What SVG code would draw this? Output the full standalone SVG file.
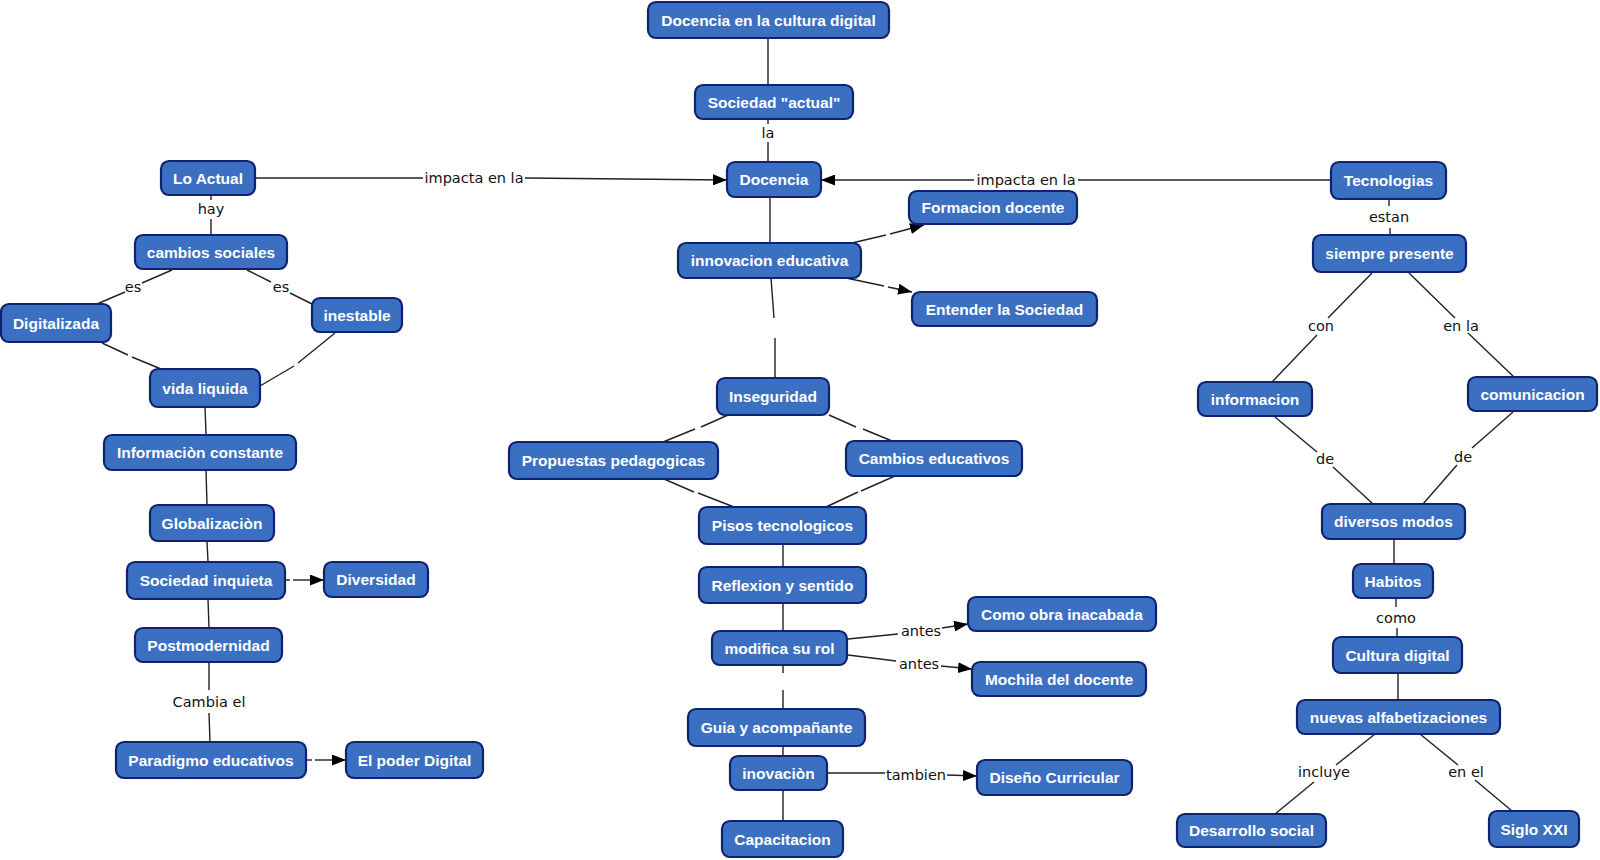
<svg xmlns="http://www.w3.org/2000/svg" width="1600" height="860" viewBox="0 0 1600 860">
<style>
.n rect{fill:#3b6fc1;stroke:#0f2270;stroke-width:2.2}
.n text{font-family:"Liberation Sans",Arial,sans-serif;font-weight:bold;font-size:15.5px;fill:#fff;text-anchor:middle}
.c path{fill:none;stroke:#222;stroke-width:1.4}
.c path.a{marker-end:url(#arr)}
.l{font-family:"DejaVu Sans",Verdana,sans-serif;font-size:14.5px;fill:#111;text-anchor:middle}
</style>
<defs>
<marker id="arr" viewBox="0 0 14 11" refX="14" refY="5.5" markerWidth="14" markerHeight="11" markerUnits="userSpaceOnUse" orient="auto">
<path d="M0 0 L14 5.5 L0 11 z" fill="#000"/>
</marker>
</defs>
<rect width="1600" height="860" fill="#fff"/>
<g id="connectors" class="c">
<path d="M768 38 V85"/>
<path d="M768 119 V124 M768 142 V162"/>
<path d="M255 178 H423"/><path class="a" d="M525 178 L727 180"/>
<path d="M1331 180 H1078"/><path class="a" d="M974 180 H821"/>
<path d="M770 197 V243"/>
<path d="M852 243 L886 235"/><path class="a" d="M890 234 L924 225"/>
<path d="M846 278 L884 286"/><path class="a" d="M888 287 L912 292"/>
<path d="M771 278 L774 318 M775 338 L775 378"/>
<path d="M728 415 L701 427 M695 429 L663 442"/>
<path d="M829 415 L856 427 M863 429 L892 441"/>
<path d="M664 479 L694 492 M698 493 L734 507"/>
<path d="M895 476 L861 491 M858 492 L826 507"/>
<path d="M783 544 V567"/>
<path d="M783 603 V631"/>
<path d="M848 639 L898 634"/><path class="a" d="M942 628 L968 624"/>
<path d="M848 655 L896 661"/><path class="a" d="M941 666 L972 669"/>
<path d="M783 665 V673 M783 690 V709"/>
<path d="M783 746 V756"/>
<path d="M827 773 H885"/><path class="a" d="M947 775 L977 776"/>
<path d="M783 790 V821"/>
<path d="M211 195 V200 M211 219 V235"/>
<path d="M172 270 L142 283 M125 292 L97 304"/>
<path d="M247 270 L271 282 M290 293 L312 304"/>
<path d="M102 343 L128 355 M132 357 L161 369"/>
<path d="M335 333 L298 363 M294 366 L260 386"/>
<path d="M205 406 L206 435"/>
<path d="M206 470 L207 505"/>
<path d="M207 541 L208 562"/>
<path d="M286 580 H290"/><path class="a" d="M293 580 H324"/>
<path d="M208 599 L209 628"/>
<path d="M209 662 V690 M209 713 L210 742"/>
<path d="M307 760 H312"/><path class="a" d="M315 760 H346"/>
<path d="M1389 199 V206 M1390 228 V235"/>
<path d="M1372 273 L1328 318 M1317 335 L1272 382"/>
<path d="M1409 273 L1455 318 M1468 333 L1514 377"/>
<path d="M1275 417 L1317 452 M1333 467 L1373 504"/>
<path d="M1513 412 L1472 448 M1457 465 L1423 504"/>
<path d="M1394 539 V564"/>
<path d="M1396 598 V607 M1397 628 V637"/>
<path d="M1398 673 V700"/>
<path d="M1375 734 L1336 765 M1314 782 L1275 814"/>
<path d="M1420 734 L1458 765 M1475 780 L1512 811"/>
</g>
<g id="labels">
<text class="l" x="768" y="138">la</text>
<text class="l" x="474" y="183">impacta en la</text>
<text class="l" x="1026" y="185">impacta en la</text>
<text class="l" x="211" y="214">hay</text>
<text class="l" x="133" y="292">es</text>
<text class="l" x="281" y="292">es</text>
<text class="l" x="921" y="636">antes</text>
<text class="l" x="919" y="669">antes</text>
<text class="l" x="916" y="780">tambien</text>
<text class="l" x="209" y="707">Cambia el</text>
<text class="l" x="1389" y="222">estan</text>
<text class="l" x="1321" y="331">con</text>
<text class="l" x="1461" y="331">en la</text>
<text class="l" x="1325" y="464">de</text>
<text class="l" x="1463" y="462">de</text>
<text class="l" x="1396" y="623">como</text>
<text class="l" x="1324" y="777">incluye</text>
<text class="l" x="1466" y="777">en el</text>
</g>
<g id="n1" class="n"><rect x="648" y="2" width="241" height="36" rx="8"/><text x="768.5" y="25.5">Docencia en la cultura digital</text></g>
<g id="n2" class="n"><rect x="695" y="85" width="158" height="34" rx="8"/><text x="774" y="107.5">Sociedad "actual"</text></g>
<g id="n3" class="n"><rect x="727" y="162" width="94" height="35" rx="8"/><text x="774" y="185">Docencia</text></g>
<g id="n4" class="n"><rect x="161" y="161" width="94" height="34" rx="8"/><text x="208" y="183.5">Lo Actual</text></g>
<g id="n5" class="n"><rect x="1331" y="162" width="115" height="37" rx="8"/><text x="1388.5" y="186">Tecnologias</text></g>
<g id="n6" class="n"><rect x="909" y="191" width="168" height="33" rx="8"/><text x="993" y="213">Formacion docente</text></g>
<g id="n7" class="n"><rect x="678" y="243" width="183" height="35" rx="8"/><text x="769.5" y="266">innovacion educativa</text></g>
<g id="n8" class="n"><rect x="912" y="292" width="185" height="34" rx="8"/><text x="1004.5" y="314.5">Entender la Sociedad</text></g>
<g id="n9" class="n"><rect x="717" y="378" width="112" height="37" rx="8"/><text x="773" y="402">Inseguridad</text></g>
<g id="n10" class="n"><rect x="509" y="442" width="209" height="37" rx="8"/><text x="613.5" y="466">Propuestas pedagogicas</text></g>
<g id="n11" class="n"><rect x="846" y="441" width="176" height="35" rx="8"/><text x="934" y="464">Cambios educativos</text></g>
<g id="n12" class="n"><rect x="699" y="507" width="167" height="37" rx="8"/><text x="782.5" y="531">Pisos tecnologicos</text></g>
<g id="n13" class="n"><rect x="699" y="567" width="167" height="36" rx="8"/><text x="782.5" y="590.5">Reflexion y sentido</text></g>
<g id="n14" class="n"><rect x="712" y="631" width="135" height="34" rx="8"/><text x="779.5" y="653.5">modifica su rol</text></g>
<g id="n15" class="n"><rect x="968" y="597" width="188" height="34" rx="8"/><text x="1062" y="619.5">Como obra inacabada</text></g>
<g id="n16" class="n"><rect x="972" y="662" width="174" height="34" rx="8"/><text x="1059" y="684.5">Mochila del docente</text></g>
<g id="n17" class="n"><rect x="688" y="709" width="177" height="37" rx="8"/><text x="776.5" y="733">Guia y acompañante</text></g>
<g id="n18" class="n"><rect x="730" y="756" width="97" height="34" rx="8"/><text x="778.5" y="778.5">inovaciòn</text></g>
<g id="n19" class="n"><rect x="977" y="760" width="155" height="35" rx="8"/><text x="1054.5" y="783">Diseño Curricular</text></g>
<g id="n20" class="n"><rect x="722" y="821" width="121" height="36" rx="8"/><text x="782.5" y="844.5">Capacitacion</text></g>
<g id="n21" class="n"><rect x="135" y="235" width="152" height="34" rx="8"/><text x="211" y="257.5">cambios sociales</text></g>
<g id="n22" class="n"><rect x="1" y="304" width="110" height="38" rx="8"/><text x="56" y="328.5">Digitalizada</text></g>
<g id="n23" class="n"><rect x="312" y="298" width="90" height="34" rx="8"/><text x="357" y="320.5">inestable</text></g>
<g id="n24" class="n"><rect x="150" y="369" width="110" height="38" rx="8"/><text x="205" y="393.5">vida liquida</text></g>
<g id="n25" class="n"><rect x="104" y="435" width="192" height="35" rx="8"/><text x="200" y="458">Informaciòn constante</text></g>
<g id="n26" class="n"><rect x="150" y="505" width="124" height="36" rx="8"/><text x="212" y="528.5">Globalizaciòn</text></g>
<g id="n27" class="n"><rect x="127" y="562" width="158" height="37" rx="8"/><text x="206" y="586">Sociedad inquieta</text></g>
<g id="n28" class="n"><rect x="324" y="562" width="104" height="35" rx="8"/><text x="376" y="585">Diversidad</text></g>
<g id="n29" class="n"><rect x="135" y="628" width="147" height="34" rx="8"/><text x="208.5" y="650.5">Postmodernidad</text></g>
<g id="n30" class="n"><rect x="116" y="742" width="190" height="36" rx="8"/><text x="211" y="765.5">Paradigmo educativos</text></g>
<g id="n31" class="n"><rect x="346" y="742" width="137" height="36" rx="8"/><text x="414.5" y="765.5">El poder Digital</text></g>
<g id="n32" class="n"><rect x="1313" y="235" width="153" height="37" rx="8"/><text x="1389.5" y="259">siempre presente</text></g>
<g id="n33" class="n"><rect x="1198" y="382" width="114" height="34" rx="8"/><text x="1255" y="404.5">informacion</text></g>
<g id="n34" class="n"><rect x="1468" y="377" width="129" height="34" rx="8"/><text x="1532.5" y="399.5">comunicacion</text></g>
<g id="n35" class="n"><rect x="1322" y="504" width="143" height="35" rx="8"/><text x="1393.5" y="527">diversos modos</text></g>
<g id="n36" class="n"><rect x="1353" y="564" width="80" height="34" rx="8"/><text x="1393" y="586.5">Habitos</text></g>
<g id="n37" class="n"><rect x="1333" y="637" width="129" height="36" rx="8"/><text x="1397.5" y="660.5">Cultura digital</text></g>
<g id="n38" class="n"><rect x="1297" y="700" width="203" height="34" rx="8"/><text x="1398.5" y="722.5">nuevas alfabetizaciones</text></g>
<g id="n39" class="n"><rect x="1177" y="814" width="149" height="33" rx="8"/><text x="1251.5" y="836">Desarrollo social</text></g>
<g id="n40" class="n"><rect x="1489" y="811" width="90" height="36" rx="8"/><text x="1534" y="834.5">Siglo XXI</text></g>
</svg>
